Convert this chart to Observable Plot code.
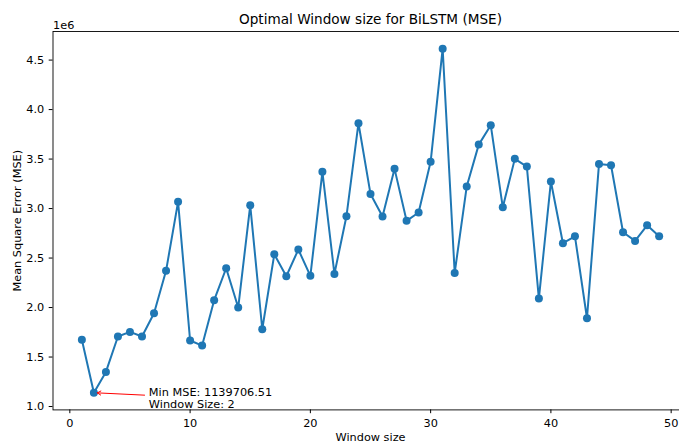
<!DOCTYPE html>
<html>
<head>
<meta charset="utf-8">
<script src="https://cdn.jsdelivr.net/npm/d3@7"></script>
<script src="https://cdn.jsdelivr.net/npm/@observablehq/plot@0.6"></script>
<style>
  html, body { margin: 0; padding: 0; background: #fff; }
  #fig { width: 679px; height: 443px; overflow: hidden; position: relative; }
  #fig svg { max-width: none !important; }
</style>
</head>
<body>
<div id="fig"></div>
<script>
// Window sizes tried and the resulting BiLSTM mean square error
const windowSizes = d3.range(1, 50);
const mseValues = [
  1674000, 1139706.51, 1350000, 1707000, 1754000, 1707000, 1943000, 2371000, 3068000, 1667000,
  1616000, 2074000, 2397000, 2000000, 3033000, 1781000, 2538000, 2316000, 2586000, 2320000,
  3371000, 2340000, 2922000, 3862000, 3148000, 2919000, 3401000, 2876000, 2960000, 3472000,
  4615000, 2350000, 3222000, 3646000, 3842000, 3013000, 3502000, 3424000, 2091000, 3273000,
  2650000, 2720000, 1892000, 3451000, 3438000, 2761000, 2673000, 2831000, 2720000
];
const xTicks = [0, 10, 20, 30, 40, 50];
const yTicks = [1.0e6, 1.5e6, 2.0e6, 2.5e6, 3.0e6, 3.5e6, 4.0e6, 4.5e6];

const titleText = "Optimal Window size for BiLSTM (MSE)";
const xLabel = "Window size";
const yLabel = "Mean Square Error (MSE)";
const offsetText = "1e6";

const data = windowSizes.map((w, i) => ({w, mse: mseValues[i]}));

// best window: lowest error
const best = data.reduce((a, b) => (b.mse < a.mse ? b : a));
const bestLabel = `Min MSE: ${best.mse.toFixed(2)}\nWindow Size: ${best.w}`;

// autoscale with 5% padding on each side
function padded([lo, hi], f = 0.05) {
  const r = hi - lo;
  return [lo - f * r, hi + f * r];
}
const xDomain = padded(d3.extent(windowSizes));
const yDomain = padded(d3.extent(mseValues));

// annotation text placed to the right of the minimum (in data units)
const noteDX = 4.57;
const noteDY = -0.027e6;

const blue = "#1f77b4";

const chart = Plot.plot({
  width: 690,
  height: 443,
  marginLeft: 52.5,
  marginRight: 2.5,
  marginTop: 31,
  marginBottom: 33.6,
  style: {fontFamily: "DejaVu Sans, sans-serif", fontSize: "11.3px", background: "#fff", color: "#000", maxWidth: "none"},
  x: {domain: xDomain, ticks: xTicks, tickSize: 3.8, tickPadding: 5, label: null},
  y: {domain: yDomain, ticks: yTicks, tickFormat: d => (d / 1e6).toFixed(1), tickSize: 3.8, tickPadding: 5, label: null},
  marks: [
    Plot.frame({stroke: "#000", strokeWidth: 0.9}),
    Plot.line(data, {x: "w", y: "mse", stroke: blue, strokeWidth: 2}),
    Plot.dot(data, {x: "w", y: "mse", r: 4, fill: blue, stroke: "none"}),
    Plot.arrow([best], {
      x1: d => d.w + noteDX, y1: d => d.mse + noteDY,
      x2: "w", y2: "mse",
      stroke: "#ff0000", strokeWidth: 1, headLength: 6, headAngle: 60,
      insetStart: 4.3, insetEnd: 3.4
    }),
    Plot.text([best], {
      x: d => d.w + noteDX, y: d => d.mse + noteDY,
      text: () => bestLabel, textAnchor: "start", lineAnchor: "top",
      lineHeight: 1.09, dy: -8, fill: "#000"
    }),
    Plot.text([titleText], {frameAnchor: "top", lineAnchor: "bottom", dy: -7.5, fontSize: 13.6, fill: "#000"}),
    Plot.text([offsetText], {frameAnchor: "top-left", textAnchor: "start", lineAnchor: "bottom", dy: -2.7, fill: "#000"}),
    Plot.text([xLabel], {frameAnchor: "bottom", textAnchor: "middle", lineAnchor: "bottom", dy: 31, fill: "#000"}),
    Plot.text([yLabel], {frameAnchor: "left", textAnchor: "middle", lineAnchor: "bottom", rotate: -90, dx: -32.5, fill: "#000"})
  ]
});
chart.style.maxWidth = "none";

document.getElementById("fig").appendChild(chart);
</script>
</body>
</html>
